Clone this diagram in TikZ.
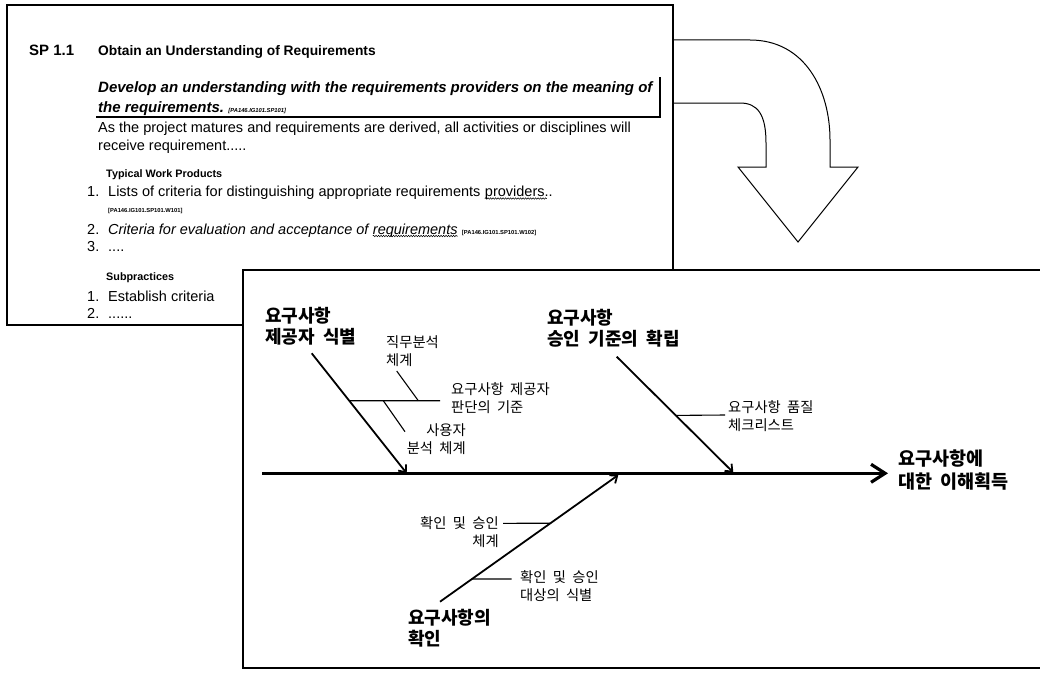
\documentclass[tikz,border=0pt]{standalone}
\usepackage{fontspec}
\setmainfont{Liberation Sans}
\newfontfamily\kr[WordSpace=2]{Noto Sans CJK KR}
\usetikzlibrary{arrows.meta,calc,positioning,decorations.pathmorphing}

\begin{document}
\begin{tikzpicture}[
    x=1pt, y=-1pt,
    frame/.style={draw, line width=1.2pt, fill=white},
    eng/.style={anchor=base west, inner sep=0pt, font=\fontsize{14.5}{16}\selectfont},
    engbold/.style={eng, font=\bfseries\fontsize{13.8}{16}\selectfont},
    enggoal/.style={eng, font=\bfseries\itshape\fontsize{15}{17}\selectfont},
    enghead/.style={eng, font=\bfseries\fontsize{10.8}{12}\selectfont},
    engref/.style={eng, font=\bfseries\fontsize{5.8}{7}\selectfont},
    after/.style={inner sep=0pt, anchor=base west},
    spell/.style={decorate, decoration={snake, amplitude=0.7pt, segment length=2.5pt},
                  line width=0.5pt},
    cause/.style={anchor=west, inner sep=0pt, align=left,
                  font=\kr\bfseries\fontsize{18}{21}\selectfont},
    effect/.style={cause, font=\kr\bfseries\fontsize{18.5}{23.5}\selectfont},
    subcause/.style={anchor=west, inner sep=0pt, align=left,
                     font=\kr\fontsize{14.3}{18}\selectfont},
    bone/.style={line width=1.8pt, -{Straight Barb[length=6pt,width=10pt]}},
    spine/.style={line width=3.2pt, -{Straight Barb[length=14pt,width=18pt]}},
    twig/.style={line width=1.1pt},
  ]
    \useasboundingbox (0,0) rectangle (1040,677);

    % (a) SP 1.1 page
    \draw[frame] (7,5) rectangle (673,325);
    \node[engbold, font=\bfseries\fontsize{15}{16}\selectfont] (spnum) at (29,56) {SP 1.1};
    \node[engbold] (sptitle) at (98,56) {Obtain an Understanding of Requirements};
    \node[enggoal] (goal1) at (98,92)
          {Develop an understanding with the requirements providers on the meaning of};
    \node[enggoal] (goal2) at (98,112) {the requirements.};
    \node[after, font=\bfseries\itshape\fontsize{5.8}{7}\selectfont]
          (goalref) at ([xshift=4pt]goal2.base east) {[PA146.IG101.SP101]};
    \draw[line width=1.2pt] (96,117) -| (660,77);
    \node[eng] (note1) at (98,132)
          {As the project matures and requirements are derived, all activities or disciplines will};
    \node[eng] (note2) at (98,150) {receive requirement.....};

    \node[enghead] (wphead) at (106,177) {Typical Work Products};
    \node[eng] (wp1num) at (87,196.5) {1.};
    \node[eng] (wp1) at (108,196.5)
          {Lists of criteria for distinguishing appropriate requirements};
    \node[after, font=\fontsize{14.5}{16}\selectfont]
          (wp1end) at ([xshift=4pt]wp1.base east) {providers..};
    \draw[spell] ([yshift=-2pt]wp1end.base west) -- ([yshift=-2pt,xshift=-6pt]wp1end.base east);
    \node[engref] (wp1ref) at (108,212) {[PA146.IG101.SP101.W101]};
    \node[eng] (wp2num) at (87,234) {2.};
    \node[eng, font=\itshape\fontsize{14.5}{16}\selectfont] (wp2) at (108,234)
          {Criteria for evaluation and acceptance of};
    \node[after, font=\itshape\fontsize{14.5}{16}\selectfont]
          (wp2end) at ([xshift=4pt]wp2.base east) {requirements};
    \draw[spell] ([yshift=-2pt]wp2end.base west) -- ([yshift=-2pt]wp2end.base east);
    \node[after, font=\bfseries\fontsize{5.8}{7}\selectfont]
          (wp2ref) at ([xshift=4pt]wp2end.base east) {[PA146.IG101.SP101.W102]};
    \node[eng] (wp3num) at (87,251.5) {3.};
    \node[eng] (wp3) at (108,251.5) {....};

    \node[enghead] (subhead) at (106,280.5) {Subpractices};
    \node[eng] (sub1num) at (87,301) {1.};
    \node[eng] (sub1) at (108,301) {Establish criteria};
    \node[eng] (sub2num) at (87,318) {2.};
    \node[eng] (sub2) at (108,318) {......};

    % (b) turn arrow
    \draw[line width=1pt, fill=white] (674,40) -- (750,40)
          .. controls (805,40) and (830,90) .. (830,140) -- (830,167)
          -- (858,167) -- (798,242) -- (738,167) -- (766,167) -- (766,143)
          .. controls (766,115) and (758,103) .. (740,103) -- (674,103);

    % (c) fishbone page
    \fill[white] (243,270) rectangle (1045,668);
    \draw[line width=1.2pt] (1045,270) -- (243,270) -- (243,668) -- (1045,668);

    \coordinate (tail) at (262,473.3);
    \coordinate (head) at (888,473.3);
    \draw[spine] (tail) -- (head);
    \node[effect] (goal) at (898,470) {요구사항에\\대한 이해획득};

    % cause: providers
    \coordinate (provtop) at (311.7,353.3);
    \coordinate (provend) at (406.7,473.3);
    \draw[bone] (provtop) -- (provend);
    \node[cause] (prov) at (265,326.5) {요구사항\\제공자 식별};
    \coordinate (critin) at ($(provtop)!0.395!(provend)$);
    \coordinate (critout) at (440,400.7);
    \draw[twig] (critin) -- (critout);
    \node[subcause] (crit) at (451,398) {요구사항 제공자\\판단의 기준};
    \coordinate (jobtop) at (396.7,371);
    \coordinate (jobend) at (418.3,400.7);
    \draw[twig] (jobtop) -- (jobend);
    \node[subcause] (job) at (386,351.2) {직무분석\\체계};
    \coordinate (usertop) at (383.3,400.7);
    \coordinate (userend) at (405,431.7);
    \draw[twig] (usertop) -- (userend);
    \node[subcause, anchor=east, align=right] (user) at (466,439.5) {사용자\\분석 체계};

    % cause: acceptance criteria
    \coordinate (apptop) at (616.7,356.7);
    \coordinate (append) at (733.3,472.5);
    \draw[bone] (apptop) -- (append);
    \node[cause] (appr) at (547,328.3) {요구사항\\승인 기준의 확립};
    \coordinate (chkin) at ($(apptop)!0.507!(append)$);
    \coordinate (chkout) at (725,415);
    \draw[twig] (chkin) -- (chkout);
    \node[subcause] (chk) at (728,416) {요구사항 품질\\체크리스트};

    % cause: verification
    \coordinate (verlow) at (440,601.7);
    \coordinate (verend) at (618.3,475);
    \draw[bone] (verlow) -- (verend);
    \node[cause] (veri) at (408,628.5) {요구사항의\\확인};
    \coordinate (sysin) at ($(verlow)!0.619!(verend)$);
    \coordinate (sysout) at (503,523.3);
    \draw[twig] (sysin) -- (sysout);
    \node[subcause, anchor=east, align=right] (sys) at (499,531.7) {확인 및 승인\\체계};
    \coordinate (objin) at ($(verlow)!0.179!(verend)$);
    \coordinate (objout) at (511.7,579);
    \draw[twig] (objin) -- (objout);
    \node[subcause] (obj) at (520,586) {확인 및 승인\\대상의 식별};
  \end{tikzpicture}
\end{document}
